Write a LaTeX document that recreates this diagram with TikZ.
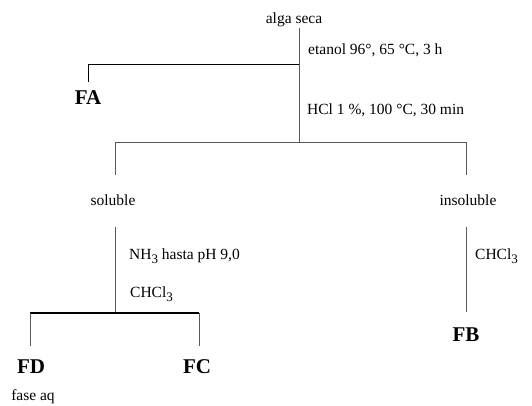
\documentclass[tikz,border=0pt]{standalone}
\usepackage{fontspec}
\setmainfont{Liberation Serif}
\usepackage{tikz}

\newcommand{\lowsub}[1]{\raisebox{-0.5ex}{\fontsize{13}{15}\selectfont #1}}

\begin{document}
\begin{tikzpicture}[x=1pt, y=-1pt,
    lbl/.style={font=\fontsize{15.5}{17}\selectfont, inner sep=0pt},
    frac/.style={font=\fontsize{21}{23}\selectfont\bfseries, inner sep=0pt},
    branch/.style={draw=black!65, line width=0.9pt},
    split/.style={draw=black, line width=1.5pt}]
    \useasboundingbox (0,0) rectangle (532,405);

    % junctions of the tree
    \coordinate (top)  at (299,28);
    \coordinate (ja)   at (299,64);
    \coordinate (jaL)  at (88,64);
    \coordinate (jaE)  at (88,82);
    \coordinate (jb)   at (299,142);
    \coordinate (jbL)  at (115,142);
    \coordinate (jbR)  at (466,142);
    \coordinate (solT) at (115,227);
    \coordinate (insT) at (466,227);
    \coordinate (jc)   at (115,313);
    \coordinate (jcL)  at (30,313);
    \coordinate (jcR)  at (199,313);

    % texts
    \node [lbl] (alga) at (294,20) {alga seca};
    \node [lbl, anchor=west] (etanol) at (308,50) {etanol 96°, 65 °C, 3 h};
    \node [frac] (fa) at (88,98) {FA};
    \node [lbl, anchor=west] (hcl) at (307,110) {HCl 1 \%, 100 °C, 30 min};
    \node [lbl] (sol) at (113,200) {soluble};
    \node [lbl] (insol) at (468,200) {insoluble};
    \node [lbl, anchor=west] (nh) at (129,256) {NH\lowsub{3} hasta pH 9,0};
    \node [lbl, anchor=west] (chclR) at (475,256) {CHCl\lowsub{3}};
    \node [lbl, anchor=west] (chclL) at (130,294) {CHCl\lowsub{3}};
    \node [frac] (fb) at (466,335) {FB};
    \node [frac] (fd) at (31,367) {FD};
    \node [frac] (fc) at (197,367) {FC};
    \node [lbl] (aq) at (33,397) {fase aq};

    % connectors
    \draw [branch] (top) -- (jb);
    \draw [black, line width=0.9pt] (ja) -- (jaL) -- (jaE);
    \draw [branch] (jbL |- 0,175) -- (jbL) -- (jbR) -- (jbR |- 0,175);
    \draw [branch] (solT) -- (jc);
    \draw [branch] (insT) -- (466,312);
    \draw [split] (jcL) -- (jcR);
    \draw [branch] (jcL) -- (30,346);
    \draw [branch] (jcR) -- (199,346);
\end{tikzpicture}
\end{document}
